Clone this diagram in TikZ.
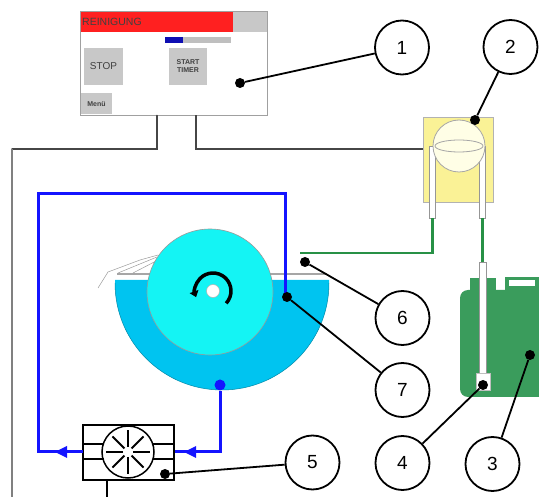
\documentclass[tikz,border=0pt]{standalone}
\usepackage{fontspec}
\setmainfont{Liberation Sans}
\usetikzlibrary{arrows.meta}
\definecolor{panelred}{RGB}{255,32,32}
\definecolor{btngray}{RGB}{200,200,200}
\definecolor{panelborder}{RGB}{160,160,160}
\definecolor{ctrlline}{RGB}{70,70,70}
\definecolor{pumpyellow}{RGB}{250,242,150}
\definecolor{tubegray}{RGB}{150,150,150}
\definecolor{hosegreen}{RGB}{40,145,70}
\definecolor{cangreen}{RGB}{58,156,92}
\definecolor{water}{RGB}{0,196,240}
\definecolor{disc}{RGB}{20,244,244}
\definecolor{flowblue}{RGB}{20,20,255}
\begin{document}
\begin{tikzpicture}[x=1pt,y=-1pt,
  numcircle/.style={circle,draw,line width=1.8pt,minimum size=54pt,inner sep=0pt,fill=white,font=\fontsize{19}{19}\selectfont},
  blackdot/.style={circle,fill=black,inner sep=0pt,minimum size=10pt},
  leader/.style={line width=1.8pt},
  button/.style={draw=none,fill=btngray,inner sep=0pt,text=black!75,align=center},
  ctrl/.style={draw=ctrlline,line width=1.5pt},
  flow/.style={draw=flowblue,line width=3pt},
  hose/.style={draw=hosegreen,line width=2.6pt},
  tube/.style={draw=tubegray,fill=white,line width=0.6pt},
  sketch/.style={draw=black!40,line width=0.5pt}
]
\useasboundingbox (0,0) rectangle (539,497);

% ---------- control panel ----------
\node[draw=panelborder,fill=white,line width=0.8pt,minimum width=187pt,minimum height=104pt,inner sep=0pt] (panel) at (173.5,63.5) {};
\fill[panelred] (80.5,12) rectangle (233,32);
\fill[btngray] (233,12) rectangle (266.5,32);
\node[anchor=west,inner sep=0pt,font=\fontsize{10.5}{10.5}\selectfont,text=black!75] (title) at (82,21.5) {REINIGUNG};
\fill[black!25] (165,37) rectangle (231,43);
\fill[flowblue!70!black] (165,37) rectangle (183,43);
\node[button,minimum width=39pt,minimum height=37pt,font=\fontsize{10}{10}\selectfont] (stop) at (103.5,66.5) {STOP};
\node[button,minimum width=38pt,minimum height=37pt,font=\bfseries\fontsize{7}{8}\selectfont] (timer) at (188,66.5) {START\\TIMER};
\node[button,minimum width=31pt,minimum height=21pt,font=\bfseries\fontsize{7}{7}\selectfont] (menu) at (96.5,104) {Menü};

% control wiring
\coordinate (pl) at (157,115.5);
\coordinate (pr) at (196,115.5);
\coordinate (plb) at (157,149);
\coordinate (prb) at (196,149);
\coordinate (lc) at (12,149);
\coordinate (le) at (12,497);
\coordinate (pin) at (423,149);
\draw[ctrl,line cap=round] (pl) -- (plb) -- (lc);
\draw[draw=black!50,line width=2pt] (lc) -- (le);
\draw[ctrl] (pr) -- (prb) -- (pin);

% ---------- peristaltic pump ----------
\node[draw=black!30,fill=pumpyellow,line width=0.6pt,minimum width=70pt,minimum height=85pt,inner sep=0pt] (pump) at (458,159.5) {};
\draw[tube] (429.5,146) rectangle (435.5,218);
\draw[tube] (479.5,146) rectangle (485.5,218);
\draw[draw=black!35,fill=white!90!yellow,line width=0.8pt] (459,146) circle[radius=26];
\draw[draw=black!35,line width=0.8pt] (459,146) ellipse[x radius=24,y radius=6];

% hoses
\coordinate (hl) at (432.5,218);
\coordinate (hlb) at (432.5,253);
\coordinate (hle) at (300,253);
\coordinate (hr) at (482.5,218);
\coordinate (hre) at (482.5,263);
\draw[hose] (hl) -- (hlb) -- (hle);
\draw[hose] (hr) -- (hre);

% ---------- canister ----------
\fill[cangreen] (505,277) rectangle (545,291);
\fill[white] (509,280.5) rectangle (535,286.5);
\fill[cangreen] (470,278) rectangle (496,292);
\fill[cangreen,rounded corners=8pt] (460,290) rectangle (552,397);
\draw[tube] (479.5,262) rectangle (486.5,378);
\draw[draw=black!25,fill=white,line width=0.6pt] (476,373) rectangle (490,390);

% ---------- tank with disc ----------
\fill[water] (115,280) -- (329,280) -- (329,283) arc[start angle=0,end angle=180,radius=107] -- cycle;
\draw[draw=water!70!black,line width=0.5pt] (329,283) arc[start angle=0,end angle=180,radius=107];
\draw[draw=black!35,line width=1.2pt] (117,274) -- (327,274);
\draw[sketch] (98,288) -- (108,272) -- (140,260) -- (158,255);
\draw[sketch] (118,273) -- (157,257);
\draw[sketch] (133,273) -- (160,259);
\draw[draw=black!40,fill=disc,line width=0.6pt] (210,292) circle[radius=63];
\draw[line width=3.5pt,-{Triangle[length=6pt,width=9pt]}] (213,291) ++(43:18) arc[start angle=43,end angle=-200,radius=18];
\draw[draw=black!30,fill=white,line width=0.5pt] (213,291) circle[radius=6.5];

% ---------- circulation pump / filter ----------
\node[draw,line width=1.5pt,minimum width=91pt,minimum height=55pt,inner sep=0pt] (filter) at (128.5,452.5) {};
\draw[line width=1.5pt] (128,452) circle[radius=26];
\draw[line width=1.5pt] (83,444) -- (103.5,444) (83,459) -- (103.5,459);
\draw[line width=1.5pt] (152.5,444) -- (174,444) (152.5,459) -- (174,459);
\foreach \a in {0,45,...,315}
  \draw[line width=1.8pt] (128,452) ++(\a:5) -- ++(\a:17);
\fill[white] (128,452) circle[radius=4.5];
\coordinate (fb) at (107,480);
\coordinate (fbe) at (107,497);
\draw[line width=1.2pt] (fb) -- (fbe);

% circulation loop
\node[circle,fill=flowblue,inner sep=0pt,minimum size=11pt] (outlet) at (220,385) {};
\coordinate (o1) at (220,452);
\coordinate (w1) at (83,452);
\coordinate (l1) at (38,452);
\coordinate (l2) at (38,194);
\coordinate (t1) at (285,194);
\coordinate (t2) at (285,297);
\draw[flow] (outlet) -- (o1) -- (filter.east |- o1);
\draw[flow] (w1) -- (l1) -- (l2) -- (t1) -- (t2);
\fill[flowblue] (184,452) -- (196,446) -- (196,458) -- cycle;
\fill[flowblue] (55,452) -- (67,446) -- (67,458) -- cycle;

% ---------- callouts ----------
\node[numcircle] (c1) at (402,47.5) {1};
\node[numcircle] (c2) at (510.5,47) {2};
\node[numcircle] (c3) at (492.5,464) {3};
\node[numcircle] (c4) at (402.5,463) {4};
\node[numcircle] (c5) at (312.5,462.5) {5};
\node[numcircle] (c6) at (402.5,318) {6};
\node[numcircle] (c7) at (402.5,390) {7};

\node[blackdot] (d1) at (240,83) {};
\node[blackdot] (d2) at (475,120) {};
\node[blackdot] (d3) at (530,355) {};
\node[blackdot] (d4) at (483,385) {};
\node[blackdot] (d5) at (165,474) {};
\node[blackdot] (d6) at (305,262) {};
\node[blackdot] (d7) at (287,297) {};

\draw[leader] (d1) -- (c1);
\draw[leader] (d2) -- (c2);
\draw[leader] (d3) -- (c3);
\draw[leader] (d4) -- (c4);
\draw[leader] (d5) -- (c5);
\draw[leader] (d6) -- (c6);
\draw[leader] (d7) -- (c7);
\end{tikzpicture}
\end{document}
